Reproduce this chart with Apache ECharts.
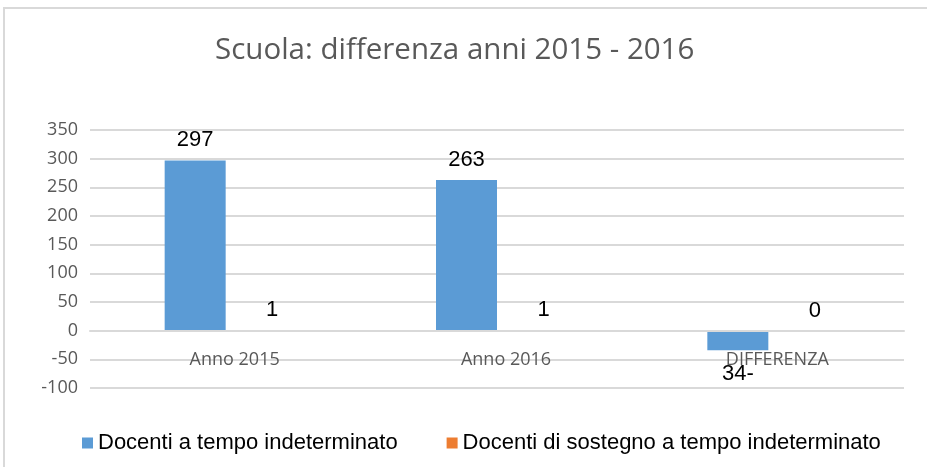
<!DOCTYPE html>
<html>
<head>
<meta charset="utf-8">
<script src="https://cdn.jsdelivr.net/npm/echarts@6/dist/echarts.min.js"></script>
<style>
  html, body { margin: 0; padding: 0; background: #fff; }
  #chart { width: 927px; height: 467px; }
</style>
</head>
<body>
<div id="chart"></div>
<script>
// dati
const categories = ['Anno 2015', 'Anno 2016', 'DIFFERENZA'];
const docentiIndeterminato = [297, 263, -34];
const docentiSostegno = [1, 1, 0];
const seriesNames = ['Docenti a tempo indeterminato', 'Docenti di sostegno a tempo indeterminato'];
const yTicks = { min: -100, max: 350, step: 50 };

const chart = echarts.init(document.getElementById('chart'));

const gridTop = 130;
const gridBottom = 79;
const gridHeight = 467 - gridTop - gridBottom;
// asse delle categorie sullo zero (come in Excel)
const zeroOffset = gridHeight * (0 - yTicks.min) / (yTicks.max - yTicks.min);

// etichetta in stile Excel: i negativi con il segno dopo
const fmt = (p) => (p.value < 0 ? Math.abs(p.value) + '-' : String(p.value));

const toItems = (values) => values.map(v => ({
  value: v,
  label: v < 0 ? { position: 'bottom', distance: 13 } : { position: 'top' }
}));

const option = {
  animation: false,
  title: {
    text: 'Scuola: differenza anni 2015 - 2016',
    left: 210,
    top: 31,
    textStyle: {
      fontFamily: 'Open Sans',
      fontWeight: 'normal',
      fontSize: 29.5,
      color: '#595959'
    }
  },
  legend: {
    data: seriesNames,
    left: 77,
    top: 427,
    icon: 'rect',
    itemWidth: 11,
    itemHeight: 11,
    itemGap: 49,
    textStyle: {
      fontFamily: 'Liberation Sans',
      fontSize: 22,
      color: '#000'
    }
  },
  grid: {
    left: 90,
    right: 23,
    top: gridTop,
    bottom: gridBottom
  },
  xAxis: {
    type: 'category',
    data: categories,
    offset: -zeroOffset,
    z: 3,
    axisLine: { onZero: false, lineStyle: { color: '#d9d9d9', width: 2 } },
    axisTick: { show: false },
    axisLabel: {
      margin: 20,
      padding: [0, 0, 0, 18],
      fontFamily: 'Open Sans',
      fontSize: 18,
      color: '#595959'
    }
  },
  yAxis: {
    type: 'value',
    min: yTicks.min,
    max: yTicks.max,
    interval: yTicks.step,
    axisLine: { show: false },
    axisTick: { show: false },
    axisLabel: {
      margin: 12,
      fontFamily: 'Open Sans',
      fontSize: 18,
      color: '#595959'
    },
    splitLine: { lineStyle: { color: '#d9d9d9', width: 2 } }
  },
  series: [
    {
      name: seriesNames[0],
      type: 'bar',
      data: toItems(docentiIndeterminato),
      barWidth: 61,
      barGap: '0%',
      itemStyle: { color: '#5B9BD5' },
      label: {
        show: true,
        distance: 9,
        formatter: fmt,
        fontFamily: 'Liberation Sans',
        fontSize: 22,
        color: '#000'
      }
    },
    {
      name: seriesNames[1],
      type: 'bar',
      data: toItems(docentiSostegno),
      barWidth: 61,
      barGap: '0%',
      itemStyle: { color: '#ED7D31' },
      label: {
        show: true,
        distance: 9,
        offset: [16, 0],
        formatter: fmt,
        fontFamily: 'Liberation Sans',
        fontSize: 22,
        color: '#000'
      }
    }
  ],
  graphic: [
    {
      type: 'polyline',
      shape: { points: [[4, 467], [4, 8], [927, 8]] },
      style: { stroke: '#d9d9d9', lineWidth: 2, fill: null },
      silent: true
    }
  ]
};

chart.setOption(option);
</script>
</body>
</html>
